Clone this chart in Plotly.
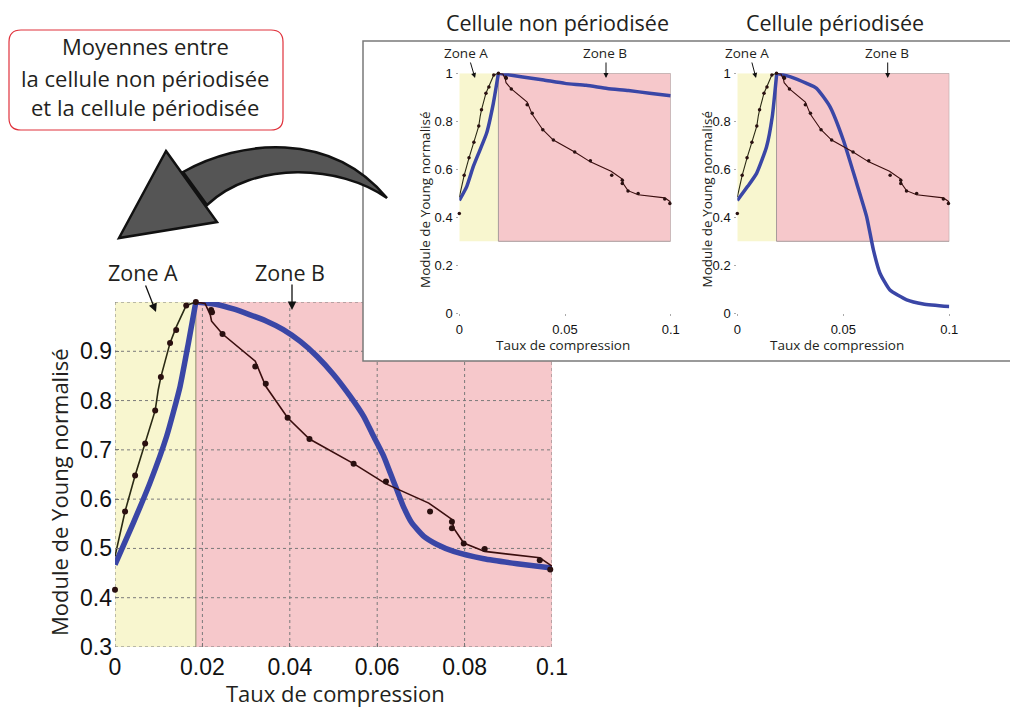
import plotly.graph_objects as go

W, H = 1018, 709
OFF = 8  # page body margin of the browser

# ---------------- data ----------------
# experimental points (black dots)
pts_x = [0.0, 0.0023, 0.0046, 0.0069, 0.0092, 0.0105, 0.0126, 0.0140, 0.0163, 0.0185,
         0.0220, 0.0222, 0.0246, 0.0321, 0.0345, 0.0395, 0.0445, 0.0546, 0.0620,
         0.0721, 0.0771, 0.0771, 0.0798, 0.0846, 0.0972, 0.0996]
pts_y = [0.416, 0.575, 0.648, 0.713, 0.780, 0.848, 0.917, 0.943, 0.993, 1.000,
         0.984, 0.979, 0.935, 0.869, 0.834, 0.765, 0.722, 0.672, 0.636,
         0.575, 0.554, 0.541, 0.510, 0.499, 0.476, 0.457]

# black fitted line, zone A (rising) and zone B (falling)
noir_a_x = [0.0, 0.0023, 0.0046, 0.0069, 0.0092, 0.0099, 0.0105, 0.0126, 0.0140, 0.0163, 0.0185]
noir_a_y = [0.484, 0.575, 0.648, 0.713, 0.780, 0.822, 0.848, 0.917, 0.949, 0.993, 1.000]
noir_b_x = [0.0185, 0.0206, 0.0218, 0.0221, 0.0246, 0.0321, 0.0345, 0.0395, 0.0445, 0.0546,
            0.0620, 0.0718, 0.0771, 0.0775, 0.0798, 0.0846, 0.0972, 0.1000]
noir_b_y = [1.000, 0.997, 0.974, 0.961, 0.935, 0.880, 0.829, 0.765, 0.722, 0.672,
            0.631, 0.592, 0.559, 0.541, 0.511, 0.494, 0.481, 0.464]

# blue model curve - average (main plot)
moy_a_x = [0.0, 0.0042, 0.0080, 0.0118, 0.0149, 0.0168, 0.0185]
moy_a_y = [0.467, 0.552, 0.633, 0.727, 0.829, 0.917, 1.000]
moy_b_x = [0.0185, 0.0233, 0.0271, 0.0309, 0.0347, 0.0385, 0.0424, 0.0462, 0.0500, 0.0538,
           0.0569, 0.0592, 0.0615, 0.0630, 0.0645, 0.0660, 0.0679, 0.0706, 0.0737, 0.0775,
           0.0844, 0.0920, 0.1000]
moy_b_y = [1.000, 0.995, 0.986, 0.974, 0.961, 0.944, 0.920, 0.890, 0.853, 0.809,
           0.768, 0.727, 0.687, 0.653, 0.619, 0.585, 0.552, 0.525, 0.508, 0.494,
           0.479, 0.469, 0.460]

# blue model curve - non periodised cell
np_a_x = [0.0, 0.0035, 0.0066, 0.0098, 0.0129, 0.0161, 0.0185]
np_a_y = [0.470, 0.528, 0.611, 0.681, 0.750, 0.875, 1.000]
np_b_x = [0.0185, 0.030, 0.040, 0.050, 0.060, 0.070, 0.080, 0.090, 0.100]
np_b_y = [1.000, 0.985, 0.972, 0.958, 0.950, 0.937, 0.928, 0.917, 0.906]

# blue model curve - periodised cell
p_a_x = [0.0, 0.0050, 0.0091, 0.0138, 0.0165, 0.0186]
p_a_y = [0.470, 0.530, 0.583, 0.694, 0.820, 1.000]
p_b_x = [0.0186, 0.0248, 0.0327, 0.0374, 0.0437, 0.0500, 0.0563, 0.0610, 0.0642,
         0.0673, 0.0720, 0.0799, 0.0877, 0.1000]
p_b_y = [1.000, 0.986, 0.958, 0.9375, 0.861, 0.722, 0.542, 0.403, 0.264,
         0.167, 0.097, 0.056, 0.039, 0.028]

zone_lim = 0.0185
main_xticks = [0, 0.02, 0.04, 0.06, 0.08, 0.1]
main_xlabels = ["0", "0.02", "0.04", "0.06", "0.08", "0.1"]
main_yticks = [0.3, 0.4, 0.5, 0.6, 0.7, 0.8, 0.9]
main_ylabels = ["0.3", "0.4", "0.5", "0.6", "0.7", "0.8", "0.9"]
ins_xticks = [0, 0.05, 0.1]
ins_xlabels = ["0", "0.05", "0.1"]
ins_yticks = [0, 0.2, 0.4, 0.6, 0.8, 1]
ins_ylabels = ["0", "0.2", "0.4", "0.6", "0.8", "1"]

# ---------------- layout helpers (window pixel -> paper) ----------------
FW, FH = W - OFF, H - OFF

def px(x):
    return (x - OFF) / FW

def py(y):
    return 1 - (y - OFF) / FH

TXT = "Open Sans"
NUM = "Liberation Sans, Arial"
BLUE = "#3a46a6"
YEL = "#f8f6cf"
PINK = "#f6c8cb"

main_x0, main_x1, main_yt, main_yb = 115, 552, 302, 647
i1_x0, i1_x1 = 459.3, 670.7
i2_x0, i2_x1 = 737.3, 949.3
ins_yt, ins_yb = 73.3, 313.3
box_l, box_t, box_b = 363, 41, 361

fig = go.Figure()

def add_set(xa, ya, blue_a, blue_b, bw, msize, lw):
    fig.add_trace(go.Scatter(x=blue_a[0], y=blue_a[1], mode="lines", line=dict(color=BLUE, width=bw, shape="spline", smoothing=0.5),
                             xaxis=xa, yaxis=ya, hoverinfo="skip", showlegend=False))
    fig.add_trace(go.Scatter(x=blue_b[0], y=blue_b[1], mode="lines", line=dict(color=BLUE, width=bw, shape="spline", smoothing=0.5),
                             xaxis=xa, yaxis=ya, hoverinfo="skip", showlegend=False))
    fig.add_trace(go.Scatter(x=noir_a_x, y=noir_a_y, mode="lines", line=dict(color="#2a2a14", width=lw),
                             xaxis=xa, yaxis=ya, hoverinfo="skip", showlegend=False))
    fig.add_trace(go.Scatter(x=noir_b_x, y=noir_b_y, mode="lines", line=dict(color="#3a0e0e", width=lw),
                             xaxis=xa, yaxis=ya, hoverinfo="skip", showlegend=False))
    fig.add_trace(go.Scatter(x=pts_x, y=pts_y, mode="markers", marker=dict(color="#2a1010", size=msize),
                             xaxis=xa, yaxis=ya, hoverinfo="skip", showlegend=False, cliponaxis=False))

add_set("x", "y", (moy_a_x, moy_a_y), (moy_b_x, moy_b_y), 5.5, 6, 1.6)
add_set("x2", "y2", (np_a_x, np_a_y), (np_b_x, np_b_y), 3.5, 3.5, 1.1)
add_set("x3", "y3", (p_a_x, p_a_y), (p_b_x, p_b_y), 3.5, 3.5, 1.1)

shapes = []
def main_dx(pxv):
    return (pxv - main_x0) / (main_x1 - main_x0) * 0.1

def main_dy(pyv):
    return 1.0 - (pyv - main_yt) / (main_yb - main_yt) * 0.7

clip_x = main_dx(box_l)
clip_y = main_dy(box_b)

shapes.append(dict(type="rect", xref="x", yref="y", x0=0, x1=zone_lim, y0=0.3, y1=1.0,
                   fillcolor=YEL, line=dict(width=0), layer="below"))
shapes.append(dict(type="rect", xref="x", yref="y", x0=zone_lim, x1=0.1, y0=0.3, y1=clip_y,
                   fillcolor=PINK, line=dict(width=0), layer="below"))
shapes.append(dict(type="rect", xref="x", yref="y", x0=zone_lim, x1=clip_x, y0=clip_y, y1=1.0,
                   fillcolor=PINK, line=dict(width=0), layer="below"))
shapes.append(dict(type="line", xref="x", yref="y", x0=zone_lim, x1=zone_lim, y0=0.3, y1=1.0,
                   line=dict(color="#8f8f6a", width=1), layer="below"))
GRID = dict(color="#7a7a7a", width=1, dash="dot")
for gx in main_xticks:
    top = 1.0 if gx < clip_x else clip_y
    shapes.append(dict(type="line", xref="x", yref="y", x0=gx, x1=gx, y0=0.3, y1=top, line=GRID, layer="below"))
for gy in main_yticks + [1.0]:
    right = 0.1 if gy < clip_y else clip_x
    shapes.append(dict(type="line", xref="x", yref="y", x0=0, x1=right, y0=gy, y1=gy, line=GRID, layer="below"))

for xr, yr in (("x2", "y2"), ("x3", "y3")):
    shapes.append(dict(type="rect", xref=xr, yref=yr, x0=0, x1=zone_lim, y0=0.3, y1=1.0,
                       fillcolor=YEL, line=dict(width=0), layer="below"))
    shapes.append(dict(type="rect", xref=xr, yref=yr, x0=zone_lim, x1=0.1, y0=0.3, y1=1.0,
                       fillcolor=PINK, line=dict(color="#a89a9a", width=1), layer="below"))

shapes.append(dict(type="path", xref="paper", yref="paper",
                   path=f"M {px(W+5)},{py(box_t)} L {px(box_l)},{py(box_t)} L {px(box_l)},{py(box_b)} L {px(W+5)},{py(box_b)}",
                   line=dict(color="#7a7a7a", width=1.5), layer="above"))

bx0, by0, bx1, by1, r = 9, 30, 283, 130, 12
rp = (f"M {px(bx0+r)},{py(by0)} L {px(bx1-r)},{py(by0)} Q {px(bx1)},{py(by0)} {px(bx1)},{py(by0+r)} "
      f"L {px(bx1)},{py(by1-r)} Q {px(bx1)},{py(by1)} {px(bx1-r)},{py(by1)} "
      f"L {px(bx0+r)},{py(by1)} Q {px(bx0)},{py(by1)} {px(bx0)},{py(by1-r)} "
      f"L {px(bx0)},{py(by0+r)} Q {px(bx0)},{py(by0)} {px(bx0+r)},{py(by0)} Z")
shapes.append(dict(type="path", xref="paper", yref="paper", path=rp,
                   line=dict(color="#e0323c", width=1.2), fillcolor="white", layer="above"))

body = (f"M {px(183)},{py(172)} C {px(240)},{py(140)} {px(330)},{py(130)} {px(387)},{py(198)} "
        f"C {px(340)},{py(165)} {px(255)},{py(160)} {px(207)},{py(205)} Z")
shapes.append(dict(type="path", xref="paper", yref="paper", path=body,
                   fillcolor="#555555", line=dict(color="#111111", width=2.5), layer="above"))
head = f"M {px(166)},{py(151)} L {px(217)},{py(222)} L {px(119)},{py(238)} Z"
shapes.append(dict(type="path", xref="paper", yref="paper", path=head,
                   fillcolor="#555555", line=dict(color="#111111", width=2.5), layer="above"))

ann = []
def text(x, y, s, size, angle=0, color="#231f20", font=TXT):
    ann.append(dict(x=px(x), y=py(y), xref="paper", yref="paper", text=s, showarrow=False,
                    textangle=angle, font=dict(family=font, size=size, color=color),
                    xanchor="center", yanchor="middle"))

def arrow(x0, y0, x1, y1, size=1.0, width=1.2):
    ann.append(dict(x=px(x1), y=py(y1), xref="paper", yref="paper", text="", showarrow=True,
                    ax=x0 - x1, ay=y0 - y1, axref="pixel", ayref="pixel",
                    arrowhead=2, arrowsize=size, arrowwidth=width, arrowcolor="#111111"))

text(145, 46, "Moyennes entre", 22)
text(145, 78, "la cellule non périodisée", 22)
text(145, 107, "et la cellule périodisée", 22)

text(557, 23, "Cellule non périodisée", 21.5)
text(835, 23, "Cellule périodisée", 21.5)

text(142.7, 272, "Zone A", 21.5)
arrow(145, 284, 156, 312, 1.3, 1.3)
text(290, 272, "Zone B", 21.5)
arrow(292, 283, 292, 310, 1.3, 1.3)
text(59, 492, "Module de Young normalisé", 22, angle=-90)
text(335, 693, "Taux de compression", 22)

for zA, aA0, aA1, zB in (((466, 53), (470, 61), (475, 78), (605, 53)),
                         ((746.7, 53), (751.5, 61), (756, 78), (886.7, 53))):
    text(zA[0], zA[1], "Zone A", 13.5)
    arrow(aA0[0], aA0[1], aA1[0], aA1[1], 1.0, 1.0)
    text(zB[0], zB[1], "Zone B", 13.5)
    arrow(zB[0] + 1, 61, zB[0] + 1, 78, 1.0, 1.0)

text(425, 200, "Module de Young normalisé", 13.5, angle=-90)
text(563, 345, "Taux de compression", 13.5)
text(706.5, 200, "Module de Young normalisé", 13.5, angle=-90)
text(837, 345, "Taux de compression", 13.5)

main_x = dict(domain=[px(main_x0), px(main_x1)], range=[0, 0.1], tickvals=main_xticks, ticktext=main_xlabels,
              showgrid=False, zeroline=False, showline=False, ticks="inside", ticklen=4, tickcolor="#777",
              tickfont=dict(family=NUM, size=23, color="#111"), ticklabelstandoff=4, fixedrange=True, automargin=False)
main_y = dict(domain=[py(main_yb), py(main_yt)], range=[0.3, 1.0], tickvals=main_yticks, ticktext=main_ylabels,
              showgrid=False, zeroline=False, showline=False, ticks="inside", ticklen=4, tickcolor="#777",
              tickfont=dict(family=NUM, size=23, color="#111"), ticklabelstandoff=2, fixedrange=True, automargin=False)

def ins_axes(x0, x1):
    xa = dict(domain=[px(x0), px(x1)], range=[0, 0.1], tickvals=ins_xticks, ticktext=ins_xlabels,
              showgrid=False, zeroline=False, showline=False, ticks="outside", ticklen=2, tickcolor="#aaa",
              tickfont=dict(family=NUM, size=13, color="#111"), ticklabelstandoff=2, fixedrange=True, automargin=False)
    ya = dict(domain=[py(ins_yb), py(ins_yt)], range=[0, 1.0], tickvals=ins_yticks, ticktext=ins_ylabels,
              showgrid=False, zeroline=False, showline=False, ticks="outside", ticklen=2, tickcolor="#aaa",
              tickfont=dict(family=NUM, size=13, color="#111"), ticklabelstandoff=1, fixedrange=True, automargin=False)
    return xa, ya

x2a, y2a = ins_axes(i1_x0, i1_x1)
x3a, y3a = ins_axes(i2_x0, i2_x1)
x2a["anchor"] = "y2"; y2a["anchor"] = "x2"
x3a["anchor"] = "y3"; y3a["anchor"] = "x3"

fig.update_layout(
    template="none",
    width=FW, height=FH,
    margin=dict(l=0, r=0, t=0, b=0, pad=0, autoexpand=False),
    paper_bgcolor="white", plot_bgcolor="rgba(0,0,0,0)",
    showlegend=False,
    xaxis=main_x, yaxis=main_y,
    xaxis2=x2a, yaxis2=y2a,
    xaxis3=x3a, yaxis3=y3a,
    shapes=shapes, annotations=ann,
)

fig.write_html("out.html")
